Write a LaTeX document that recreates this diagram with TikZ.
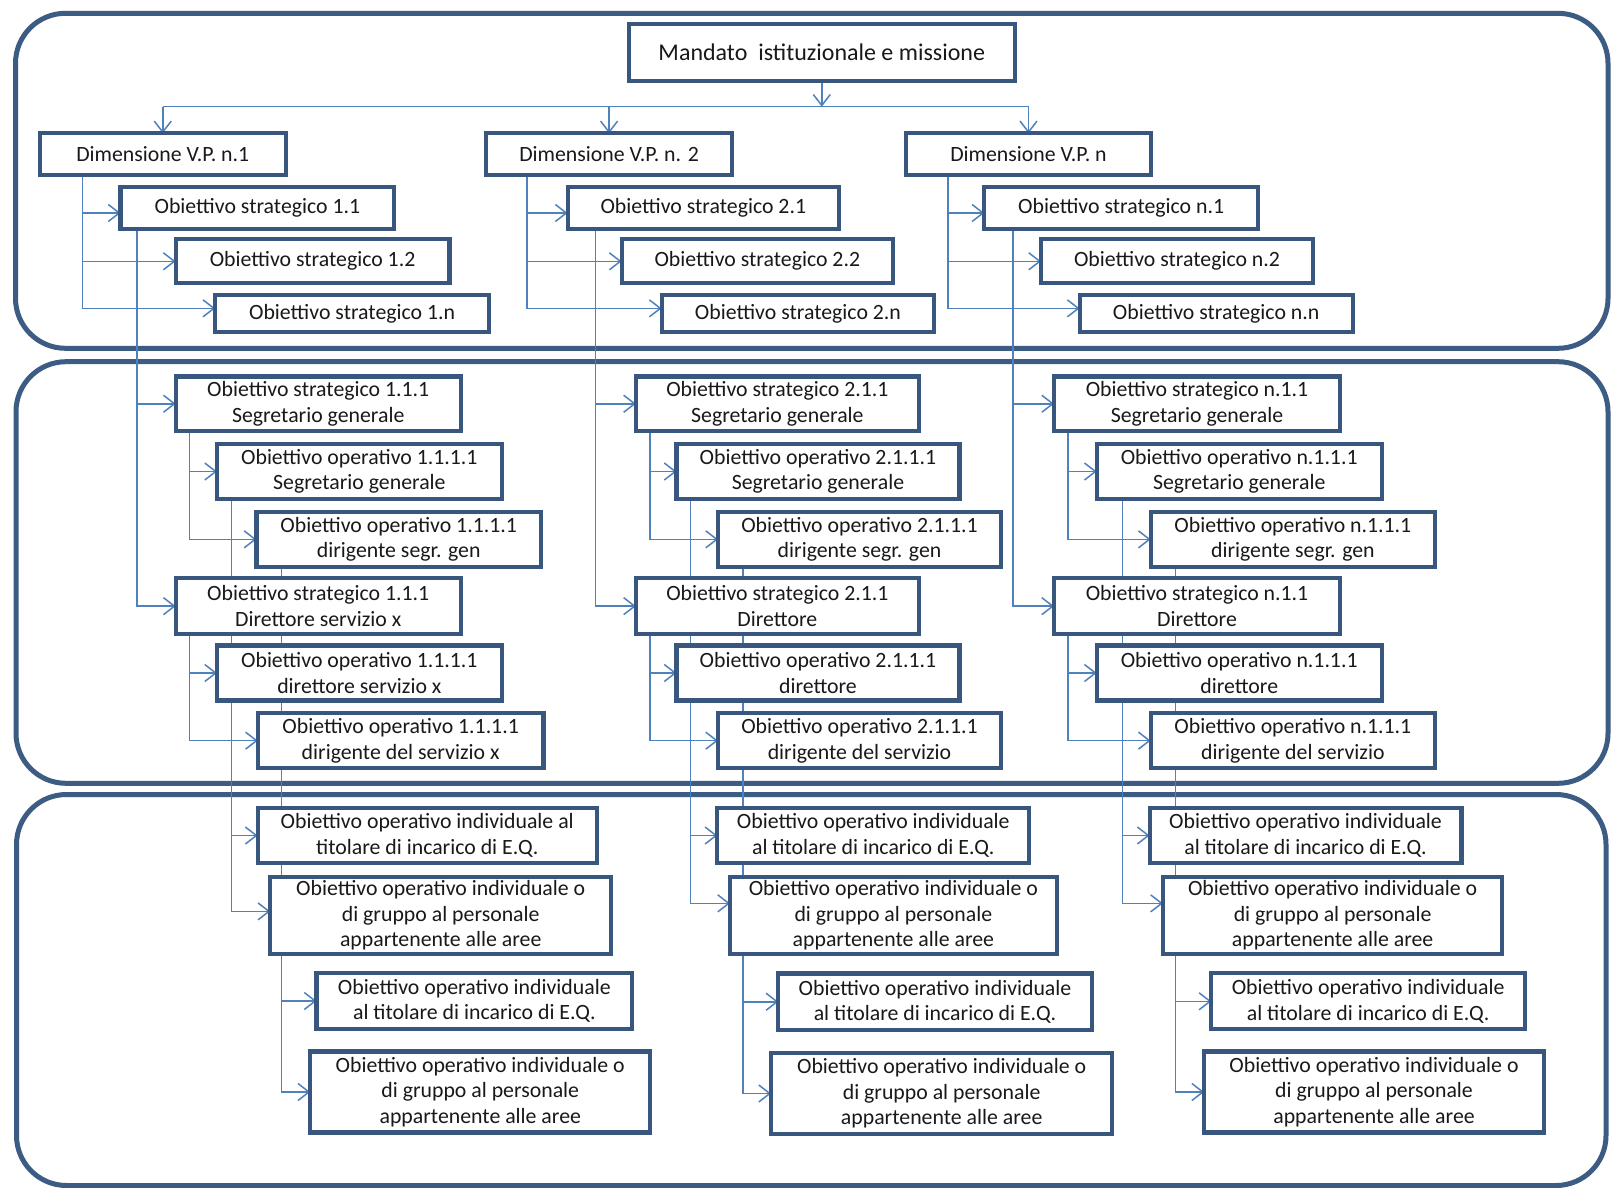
\documentclass[tikz,border=0pt]{standalone}
\usepackage{fontspec}
\setmainfont{Carlito}
\usetikzlibrary{arrows.meta,calc}
\pgfdeclarelayer{bg}
\pgfdeclarelayer{lines}
\pgfsetlayers{bg,lines,main}
\definecolor{boxc}{RGB}{56,86,126}
\definecolor{panelc}{RGB}{60,92,132}
\definecolor{linkc}{RGB}{79,129,189}
\definecolor{txtc}{RGB}{25,25,25}
\tikzset{
  panel/.style={draw=panelc, line width=2.5pt, rounded corners=25pt},
  obox/.style={draw=boxc, fill=white, line width=2.1pt, inner sep=0pt, outer sep=0pt,
    align=center, text=txtc, font=\fontsize{10.9pt}{12.7pt}\selectfont},
  bigbox/.style={obox, font=\fontsize{12pt}{14pt}\selectfont},
  conn/.style={draw=linkc, line width=0.75pt},
  arr/.style={conn, -{Straight Barb[length=5.5pt,width=8.5pt,line width=0.75pt]}}
}
% #1 style, #2 name, #3 x1, #4 y1, #5 x2, #6 y2, #7 text
\newcommand\bx[7][obox]{%
  \node[#1, minimum width={(#5-#3)*0.5pt}, minimum height={(#6-#4)*0.5pt}]
    (#2) at ({(#3+#5)/2},{(#4+#6)/2}) {#7};}
\begin{document}
\begin{tikzpicture}[x=0.5pt,y=-0.5pt]
\useasboundingbox (0,0) rectangle (1612,1188);
\begin{pgfonlayer}{bg}
\fill[white] (0,0) rectangle (1612,1188);
\draw[panel] (15.5,13.3) rectangle (1608,348.3);
\draw[panel] (16,361.7) rectangle (1608,783.3);
\draw[panel] (16.5,794.5) rectangle (1606,1185.5);
\end{pgfonlayer}

% ---------- panel 1 boxes ----------
\bx[bigbox]{mand}{629}{24}{1014.6}{81}{Mandato\ \ istituzionale e missione}
\bx{dim1}{39.6}{133.3}{285.9}{175}{Dimensione V.P. n.1}
\bx{dim2}{486}{133.3}{732.2}{175}{Dimensione V.P. n. 2}
\bx{dimn}{905.8}{133.3}{1151.2}{175}{Dimensione V.P. n}
\bx{os11}{120.5}{186.7}{394.3}{229.3}{Obiettivo strategico 1.1}
\bx{os12}{175.6}{239.3}{449.5}{283.3}{Obiettivo strategico 1.2}
\bx{os1n}{215.2}{295}{489}{331.7}{Obiettivo strategico 1.n}
\bx{os21}{567.6}{186.7}{839}{229.3}{Obiettivo strategico 2.1}
\bx{os22}{621.6}{239.3}{893}{283.3}{Obiettivo strategico 2.2}
\bx{os2n}{661.6}{295}{934.3}{331.7}{Obiettivo strategico 2.n}
\bx{osn1}{984.3}{186.7}{1258}{229.3}{Obiettivo strategico n.1}
\bx{osn2}{1041}{239.3}{1313}{283.3}{Obiettivo strategico n.2}
\bx{osnn}{1079.6}{295}{1352.7}{331.7}{Obiettivo strategico n.n}

% ---------- panel 2 boxes ----------
\bx{ss1}{175.7}{376.5}{460.7}{431}{Obiettivo strategico 1.1.1\\Segretario generale}
\bx{sg1}{217}{444}{501.7}{499}{Obiettivo operativo 1.1.1.1\\Segretario generale}
\bx{ds1}{256.4}{511.7}{541}{567}{Obiettivo operativo 1.1.1.1\\dirigente segr. gen}
\bx{sd1}{175.7}{578.3}{460.7}{634}{Obiettivo strategico 1.1.1\\Direttore servizio x}
\bx{oe1}{217}{645.5}{501.7}{700.5}{Obiettivo operativo 1.1.1.1\\direttore servizio x}
\bx{of1}{257.8}{713}{543.5}{768.3}{Obiettivo operativo 1.1.1.1\\dirigente del servizio x}

\bx{ss2}{635.9}{376.5}{918.8}{431}{Obiettivo strategico 2.1.1\\Segretario generale}
\bx{sg2}{676.5}{444}{959.4}{499}{Obiettivo operativo 2.1.1.1\\Segretario generale}
\bx{ds2}{718}{511.7}{1001}{567}{Obiettivo operativo 2.1.1.1\\dirigente segr. gen}
\bx{sd2}{635.9}{578.3}{918.8}{634}{Obiettivo strategico 2.1.1\\Direttore}
\bx{oe2}{676.5}{645.5}{959.4}{700.5}{Obiettivo operativo 2.1.1.1\\direttore}
\bx{of2}{718}{713}{1001}{768.3}{Obiettivo operativo 2.1.1.1\\dirigente del servizio}

\bx{ssn}{1054}{376.5}{1340}{431}{Obiettivo strategico n.1.1\\Segretario generale}
\bx{sgn}{1096.7}{444}{1381.7}{499}{Obiettivo operativo n.1.1.1\\Segretario generale}
\bx{dsn}{1150.7}{511.7}{1435}{567}{Obiettivo operativo n.1.1.1\\dirigente segr. gen}
\bx{sdn}{1054}{578.3}{1340}{634}{Obiettivo strategico n.1.1\\Direttore}
\bx{oen}{1096.7}{645.5}{1381.7}{700.5}{Obiettivo operativo n.1.1.1\\direttore}
\bx{ofn}{1150.7}{713}{1435}{768.3}{Obiettivo operativo n.1.1.1\\dirigente del servizio}

% ---------- panel 3 boxes ----------
\bx{eq1}{257.6}{808.3}{596.9}{862.7}{Obiettivo operativo individuale al\\titolare di incarico di E.Q.}
\bx{gr1}{270.2}{876.7}{611.2}{954}{Obiettivo operativo individuale o\\di gruppo al personale\\appartenente alle aree}
\bx{eb1}{316.5}{973}{632.2}{1029}{Obiettivo operativo individuale\\al titolare di incarico di E.Q.}
\bx{gb1}{310.2}{1051.5}{650.3}{1132.5}{Obiettivo operativo individuale o\\di gruppo al personale\\appartenente alle aree}

\bx{eq2}{717.3}{808.3}{1029.3}{862.7}{Obiettivo operativo individuale\\al titolare di incarico di E.Q.}
\bx{gr2}{730}{876.7}{1056.7}{954}{Obiettivo operativo individuale o\\di gruppo al personale\\appartenente alle aree}
\bx{eb2}{778.3}{973.5}{1091.7}{1030}{Obiettivo operativo individuale\\al titolare di incarico di E.Q.}
\bx{gb2}{771}{1053}{1112.3}{1134}{Obiettivo operativo individuale o\\di gruppo al personale\\appartenente alle aree}

\bx{eqn}{1149.6}{808.3}{1461.5}{862.7}{Obiettivo operativo individuale\\al titolare di incarico di E.Q.}
\bx{grn}{1162.9}{876.7}{1502.3}{954}{Obiettivo operativo individuale o\\di gruppo al personale\\appartenente alle aree}
\bx{ebn}{1211.3}{973.3}{1524.9}{1029.3}{Obiettivo operativo individuale\\al titolare di incarico di E.Q.}
\bx{gbn}{1204.1}{1051.5}{1543.9}{1132.5}{Obiettivo operativo individuale o\\di gruppo al personale\\appartenente alle aree}

% ---------- connectors (behind boxes) ----------
\begin{pgfonlayer}{lines}
% mandate to dimensions
\coordinate (bus) at (819.6,106.7);
\draw[arr] (mand.south) -- (mand.south |- bus);
\draw[conn] (bus -| dim1.north) -- (bus -| dimn.north);
\draw[arr] (bus -| dim1.north) -- (dim1.north);
\draw[arr] (bus -| dim2.north) -- (dim2.north);
\draw[arr] (bus -| dimn.north) -- (dimn.north);
% dimensions to strategic objectives
\coordinate (d1) at ($(dim1.south west)+(43,0)$);
\coordinate (d2) at ($(dim2.south west)+(41,0)$);
\coordinate (dn) at ($(dimn.south west)+(42,0)$);
\draw[arr] (d1) |- ($(os11.west)+(0,5)$);
\draw[arr] (d1) |- (os12.west);
\draw[arr] (d1) |- ($(os1n.west)+(0,-5)$);
\draw[arr] (d2) |- ($(os21.west)+(0,5)$);
\draw[arr] (d2) |- (os22.west);
\draw[arr] (d2) |- ($(os2n.west)+(0,-5)$);
\draw[arr] (dn) |- ($(osn1.west)+(0,5)$);
\draw[arr] (dn) |- (osn2.west);
\draw[arr] (dn) |- ($(osnn.west)+(0,-5)$);
% strategic objective x.1 to panel 2
\coordinate (s1) at ($(os11.south west)+(16.6,0)$);
\coordinate (s2) at ($(os21.south west)+(28,0)$);
\coordinate (sn) at ($(osn1.south west)+(28.5,0)$);
\draw[arr] (s1) |- (ss1.west);
\draw[arr] (s1) |- (sd1.west);
\draw[arr] (s2) |- (ss2.west);
\draw[arr] (s2) |- (sd2.west);
\draw[arr] (sn) |- (ssn.west);
\draw[arr] (sn) |- (sdn.west);
% strategic 1.1.1 to operative
\foreach \c in {1,2,n}{
  \draw[arr] ($(ss\c.south west)+(14,0)$) |- (sg\c.west);
  \draw[arr] ($(ss\c.south west)+(14,0)$) |- (ds\c.west);
  \draw[arr] ($(sd\c.south west)+(14,0)$) |- (oe\c.west);
  \draw[arr] ($(sd\c.south west)+(14,0)$) |- (of\c.west);
}
% operative to individual objectives
\coordinate (a1) at ($(sg1.south west)+(14.4,0)$);
\coordinate (a2) at ($(sg2.south west)+(14,0)$);
\coordinate (an) at ($(sgn.south west)+(26,0)$);
\draw[arr] (a1) |- (eq1.west);
\draw[arr] (a1) |- ($(gr1.west)+(0,-4)$);
\draw[arr] (a2) |- (eq2.west);
\draw[arr] (a2) |- ($(gr2.west)+(0,-12)$);
\draw[arr] (an) |- (eqn.west);
\draw[arr] (an) |- ($(grn.west)+(0,-12)$);
\foreach \c in {1,2,n}{
  \draw[arr] ($(ds\c.south west)+(25,0)$) |- (eb\c.west);
  \draw[arr] ($(ds\c.south west)+(25,0)$) |- (gb\c.west);
}
\end{pgfonlayer}
\end{tikzpicture}
\end{document}
